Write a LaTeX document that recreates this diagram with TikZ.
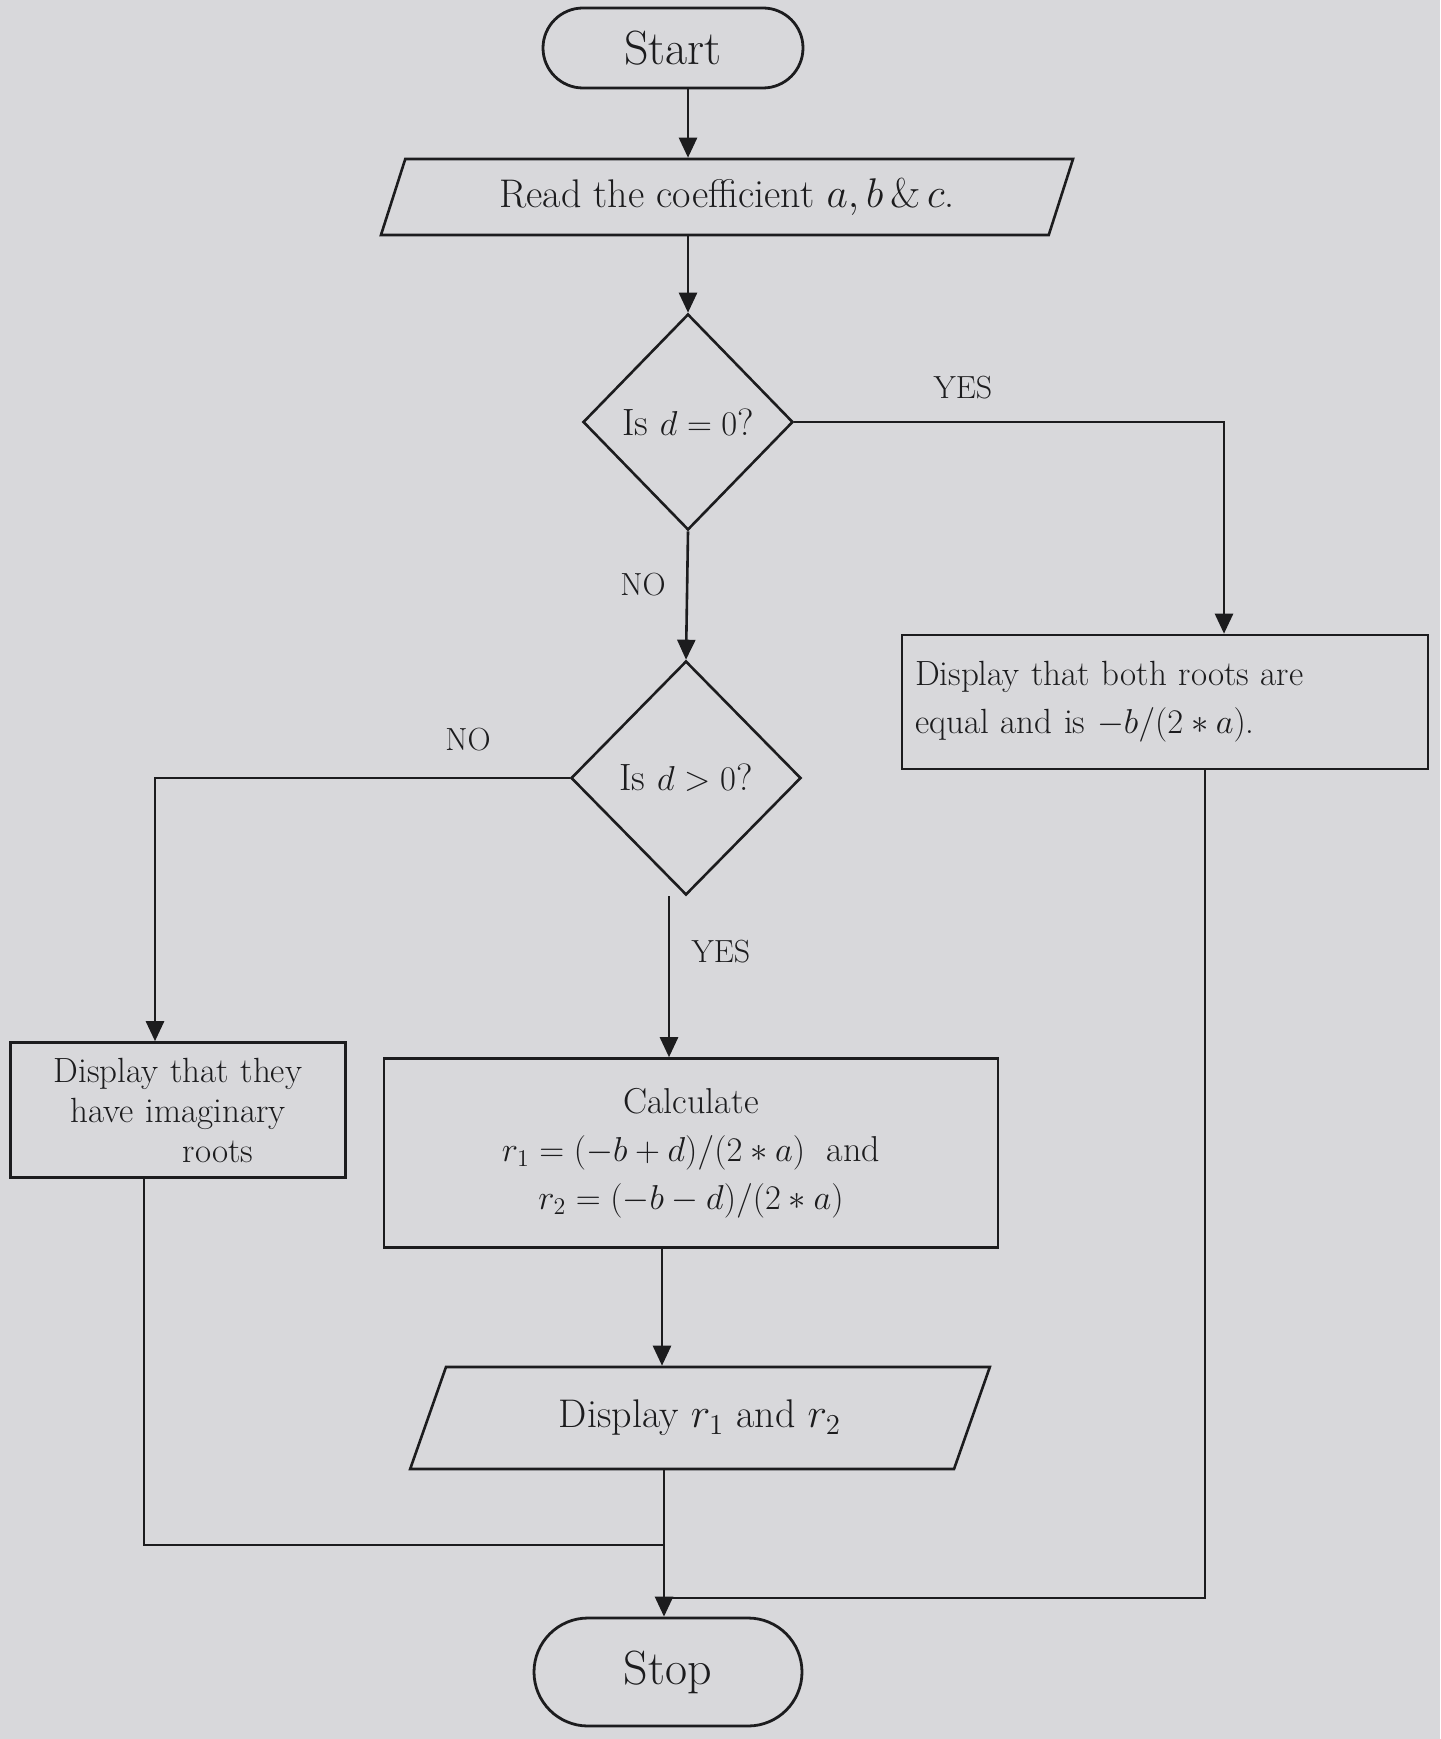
\documentclass[tikz,border=0pt]{standalone}
\usetikzlibrary{shapes.geometric,shapes.misc,arrows.meta,calc}
\definecolor{paper}{RGB}{216,216,219}
\definecolor{ink}{RGB}{28,28,30}
\begin{document}
\begin{tikzpicture}[x=0.5pt,y=-0.5pt,
  every node/.style={text=ink},
  term/.style={draw=ink, line width=1.4pt, rounded rectangle, minimum width=#1, minimum height=40pt, inner sep=0pt, font=\fontsize{24}{28}\selectfont},
  io/.style={draw=ink, line width=1.3pt, trapezium, trapezium stretches=true, inner sep=0pt, font=\fontsize{20}{24}\selectfont},
  proc/.style={draw=ink, line width=1.3pt, rectangle, inner sep=0pt},
  dec/.style={draw=ink, line width=1.3pt, diamond, inner sep=0pt, font=\fontsize{19}{22}\selectfont},
  lbl/.style={font=\fontsize{16}{18}\selectfont},
  arr/.style={draw=ink, line width=1.3pt, -{Triangle[length=10pt,width=9pt]}},
  ln/.style={draw=ink, line width=1.3pt}
]
\fill[paper] (0,0) rectangle (1440,1739);
\useasboundingbox (0,0) rectangle (1440,1739);

% nodes
\node[term=130pt] (start) at (673,48) {Start};
\node[io, trapezium left angle=65, trapezium right angle=115, minimum width=347pt, minimum height=38pt] (read) at (727,197) {Read the coefficient $a,b\,\&\,c$.};
\node[dec, minimum width=105pt, minimum height=108pt] (d1) at (688,422) {Is $d=0$?};
\node[proc, minimum width=263pt, minimum height=67pt, align=left, text width=250pt, font=\fontsize{17.5}{24}\selectfont] (eq) at (1165,702) {Display that both roots are\\ equal and is $-b/(2*a)$.};
\node[dec, minimum width=115pt, minimum height=117pt] (d2) at (686,778) {Is $d>0$?};
\node[proc, minimum width=167.5pt, minimum height=67.5pt, align=center, text width=160pt, font=\fontsize{17.5}{20}\selectfont] (img) at (178,1110) {Display that they\\ have imaginary\\ \hspace*{40pt}roots};
\node[proc, minimum width=307pt, minimum height=94.5pt, align=center, font=\fontsize{18}{24}\selectfont] (calc) at (691,1153) {Calculate\\ $r_1=(-b+d)/(2*a)$ \ and\\ $r_2=(-b-d)/(2*a)$};
\node[io, trapezium left angle=61, trapezium right angle=119, minimum width=290pt, minimum height=51pt] (disp) at (700,1418) {Display $r_1$ and $r_2$};
\node[term=134pt, minimum height=54pt] (stop) at (668,1672) {Stop};

% labels
\node[lbl] (yes1) at (963,388) {YES};
\node[lbl] (no1) at (643,585) {NO};
\node[lbl] (no2) at (468,740) {NO};
\node[lbl] (yes2) at (721,952) {YES};

% junction coordinates
\coordinate (eqin) at ($(eq.north)+(59,0)$);
\coordinate (imgin) at ($(img.north)+(-23,0)$);
\coordinate (imgout) at ($(img.south)+(-34,0)$);
\coordinate (eqout) at ($(eq.south)+(40,0)$);
\coordinate (joinL) at (664,1545);
\coordinate (joinR) at (664,1598);

% connectors
\draw[arr] (start.south -| d1) -- (read.north -| d1);
\draw[arr] (read.south -| d1) -- (d1.north);
\draw[arr] (d1.east) -| (eqin);
\draw[arr] (d1.south) -- (d2.north);
\draw[arr] (d2.west) -| (imgin);
\draw[arr] (d2.south -| 669,0) -- (calc.north -| 669,0);
\draw[arr] (calc.south -| 662,0) -- (disp.north -| 662,0);
\draw[arr] (disp.south -| 664,0) -- (stop.north -| 664,0);
\draw[ln] (imgout) |- (joinL);
\draw[ln] (eqout) |- (joinR);
\end{tikzpicture}
\end{document}
